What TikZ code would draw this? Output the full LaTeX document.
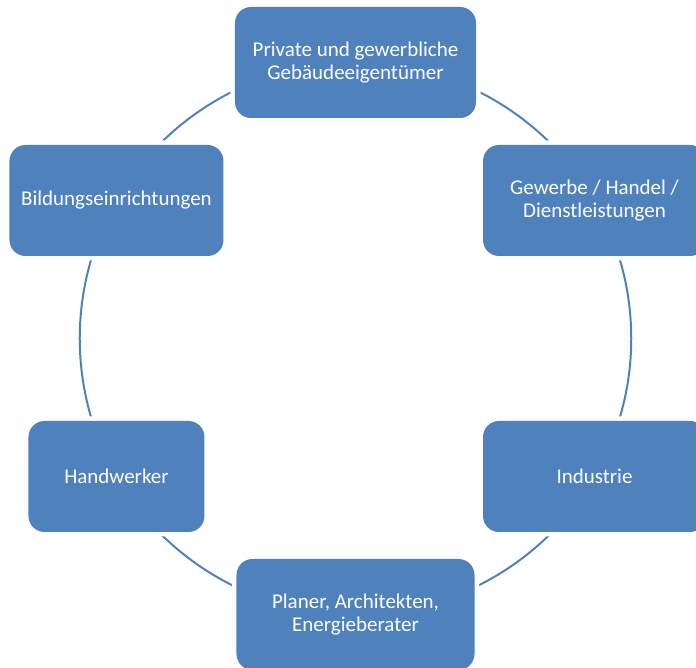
\documentclass[tikz,border=0pt]{standalone}
\usepackage{fontspec}
\setmainfont{Carlito}
\usetikzlibrary{backgrounds}
\definecolor{boxblue}{HTML}{4F81BD}
\tikzset{
  stakeholder/.style={fill=boxblue, text=white, rounded corners=16pt,
    minimum height=111pt, align=center, inner sep=0pt,
    font=\fontsize{21}{23.5}\selectfont,
    preaction={draw=white, line width=9pt}},
  ring/.style={draw=boxblue, line width=2pt, bend right=30, looseness=0.91}
}
\begin{document}
\begin{tikzpicture}[x=1pt, y=1pt]
      \useasboundingbox (-355.5,-329.5) rectangle (340.5,338.5);
      \clip (-355.5,-329.5) rectangle (340.5,338.5);
      \path
        (90:276) node[stakeholder, minimum width=241pt] (eigentuemer){Private und gewerbliche\\Gebäudeeigentümer}
        (150:276) node[stakeholder, minimum width=214pt] (bildung){Bildungseinrichtungen}
        (210:276) node[stakeholder, minimum width=176pt] (handwerk){Handwerker}
        (270:276) node[stakeholder, minimum width=238pt] (planer){Planer, Architekten,\\Energieberater}
        (330:276) node[stakeholder, minimum width=223pt] (industrie){Industrie}
        (30:276) node[stakeholder, minimum width=223pt] (gewerbe){Gewerbe / Handel /\\Dienstleistungen};
      \begin{scope}[on background layer]
        \draw[ring] (eigentuemer.center) to (bildung.center);
        \draw[ring] (bildung.center) to (handwerk.center);
        \draw[ring] (handwerk.center) to (planer.center);
        \draw[ring] (planer.center) to (industrie.center);
        \draw[ring] (industrie.center) to (gewerbe.center);
        \draw[ring] (gewerbe.center) to (eigentuemer.center);
      \end{scope}
    \end{tikzpicture}
\end{document}
